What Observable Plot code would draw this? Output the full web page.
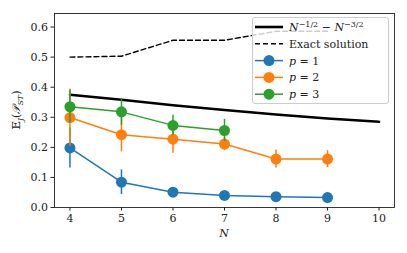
<!DOCTYPE html>
<html>
<head>
<meta charset="utf-8">
<script src="https://cdn.jsdelivr.net/npm/d3@7"></script>
<script src="https://cdn.jsdelivr.net/npm/@observablehq/plot@0.6"></script>
<style>
  body { margin: 0; background: #fff; }
  #wrap { position: relative; width: 407px; height: 253px; }
  #legend { position: absolute; left: 0; top: 0; pointer-events: none; }
</style>
</head>
<body>
<div id="wrap"></div>
<script>
// ---- data ----
const N = [4, 5, 6, 7, 8, 9, 10];
const boundY = [0.375, 0.358, 0.340, 0.324, 0.309, 0.296, 0.285];
const exactN = [4, 5, 6, 7, 8, 9];
const exactY = [0.500, 0.503, 0.556, 0.556, 0.586, 0.586];
const pN = [4, 5, 6, 7, 8, 9];
const p1Y = [0.198, 0.084, 0.051, 0.040, 0.036, 0.033];
const p1Err = [0.067, 0.041, 0.010, 0.008, 0.008, 0.008];
const p2Y = [0.299, 0.242, 0.227, 0.211, 0.161, 0.161];
const p2Err = [0.095, 0.057, 0.047, 0.022, 0.030, 0.028];
const p3N = [4, 5, 6, 7];
const p3Y = [0.335, 0.318, 0.273, 0.256];
const p3Err = [0.055, 0.045, 0.034, 0.037];
const yTicks = [0, 0.1, 0.2, 0.3, 0.4, 0.5, 0.6];
const xTicks = [4, 5, 6, 7, 8, 9, 10];
const colors = {p1: "#1f77b4", p2: "#ff7f0e", p3: "#2ca02c"};

const rows = (xs, ys, es) => xs.map((x, i) => ({x, y: ys[i], lo: es ? ys[i] - es[i] : null, hi: es ? ys[i] + es[i] : null}));
const bound = rows(N, boundY);
const exact = rows(exactN, exactY);
const s1 = rows(pN, p1Y, p1Err);
const s2 = rows(pN, p2Y, p2Err);
const s3 = rows(p3N, p3Y, p3Err);

const font = "'DejaVu Serif', serif";
const W = 407, H = 253;
const mL = 54, mR = 13, mT = 13, mB = 46;

function series(data, c) {
  return [
    Plot.line(data, {x: "x", y: "y", stroke: c, strokeWidth: 1.5}),
    Plot.ruleX(data, {x: "x", y1: "lo", y2: "hi", stroke: c, strokeWidth: 1.5}),
    Plot.dot(data, {x: "x", y: "y", r: 5.5, fill: c, stroke: "none"})
  ];
}

const chart = Plot.plot({
  width: W, height: H,
  marginLeft: mL, marginRight: mR, marginTop: mT, marginBottom: mB,
  style: {fontFamily: font, fontSize: "11px", color: "#222", background: "white"},
  x: {domain: [3.7, 10.3]},
  y: {domain: [0, 0.645]},
  marks: [
    Plot.axisX({ticks: xTicks, tickSize: 3.5, tickPadding: 3, tickFormat: d => String(d), label: null, fontSize: 11}),
    Plot.axisY({ticks: yTicks, tickSize: 3.5, tickPadding: 3, tickFormat: d3.format(".1f"), label: null, fontSize: 11}),
    Plot.line(bound, {x: "x", y: "y", stroke: "black", strokeWidth: 2.6}),
    Plot.line(exact, {x: "x", y: "y", stroke: "black", strokeWidth: 1.4, strokeDasharray: "5,3"}),
    ...series(s1, colors.p1),
    ...series(s2, colors.p2),
    ...series(s3, colors.p3),
    Plot.frame({stroke: "#222", strokeWidth: 0.9})
  ]
});
document.getElementById("wrap").appendChild(chart);

const svg = d3.select(chart);
// x label
svg.append("text").attr("x", mL + (W - mL - mR) / 2).attr("y", 237)
  .attr("text-anchor", "middle").attr("font-family", font).attr("font-size", 11)
  .attr("font-style", "italic").attr("fill", "#222").text("N");
// y label
const yl = svg.append("text")
  .attr("transform", `translate(20,${mT + (H - mT - mB) / 2}) rotate(-90)`)
  .attr("text-anchor", "middle").attr("font-family", font).attr("font-size", 11).attr("fill", "#222");
yl.append("tspan").text("𝔼");
yl.append("tspan").attr("font-size", 8).attr("font-style", "italic").attr("dy", 3).text("J");
yl.append("tspan").attr("dy", -3).text("(");
yl.append("tspan").attr("font-style", "italic").text("𝒫");
yl.append("tspan").attr("font-size", 8).attr("font-style", "italic").attr("dy", 3).text("ST");
yl.append("tspan").attr("dy", -3).text(")");

// legend overlay
const leg = d3.select("#wrap").append("svg").attr("id", "legend").attr("width", W).attr("height", H);
const lx = 252, ly = 17;
leg.append("rect").attr("x", lx + 0.5).attr("y", ly + 0.5).attr("width", 136).attr("height", 86)
  .attr("rx", 2.5).attr("fill", "white").attr("fill-opacity", 0.8).attr("stroke", "#ccc").attr("stroke-width", 1);
const entries = [
  {type: "solid"}, {type: "dash", label: "Exact solution"},
  {type: "p", c: colors.p1, n: "1"}, {type: "p", c: colors.p2, n: "2"}, {type: "p", c: colors.p3, n: "3"}
];
entries.forEach((e, i) => {
  const cy = ly + 10 + i * 16.8;
  const g = leg.append("g");
  if (e.type === "solid") {
    g.append("line").attr("x1", lx + 3).attr("x2", lx + 31).attr("y1", cy).attr("y2", cy).attr("stroke", "black").attr("stroke-width", 2.6);
  } else if (e.type === "dash") {
    g.append("line").attr("x1", lx + 3).attr("x2", lx + 31).attr("y1", cy).attr("y2", cy).attr("stroke", "black").attr("stroke-width", 1.4).attr("stroke-dasharray", "5,3");
  } else {
    g.append("line").attr("x1", lx + 3).attr("x2", lx + 31).attr("y1", cy).attr("y2", cy).attr("stroke", e.c).attr("stroke-width", 1.5);
    g.append("circle").attr("cx", lx + 17).attr("cy", cy).attr("r", 5.5).attr("fill", e.c);
  }
  const t = g.append("text").attr("x", lx + 37).attr("y", cy + 4).attr("font-family", font).attr("font-size", 11).attr("fill", "#222");
  if (e.type === "solid") {
    t.append("tspan").attr("font-style", "italic").text("N");
    t.append("tspan").attr("font-size", 8).attr("dy", -4).text("−1/2");
    t.append("tspan").attr("dy", 4).text(" − ");
    t.append("tspan").attr("font-style", "italic").text("N");
    t.append("tspan").attr("font-size", 8).attr("dy", -4).text("−3/2");
  } else if (e.type === "dash") {
    t.text(e.label);
  } else {
    t.append("tspan").attr("font-style", "italic").text("p");
    t.append("tspan").text(" = " + e.n);
  }
});
</script>
</body>
</html>
